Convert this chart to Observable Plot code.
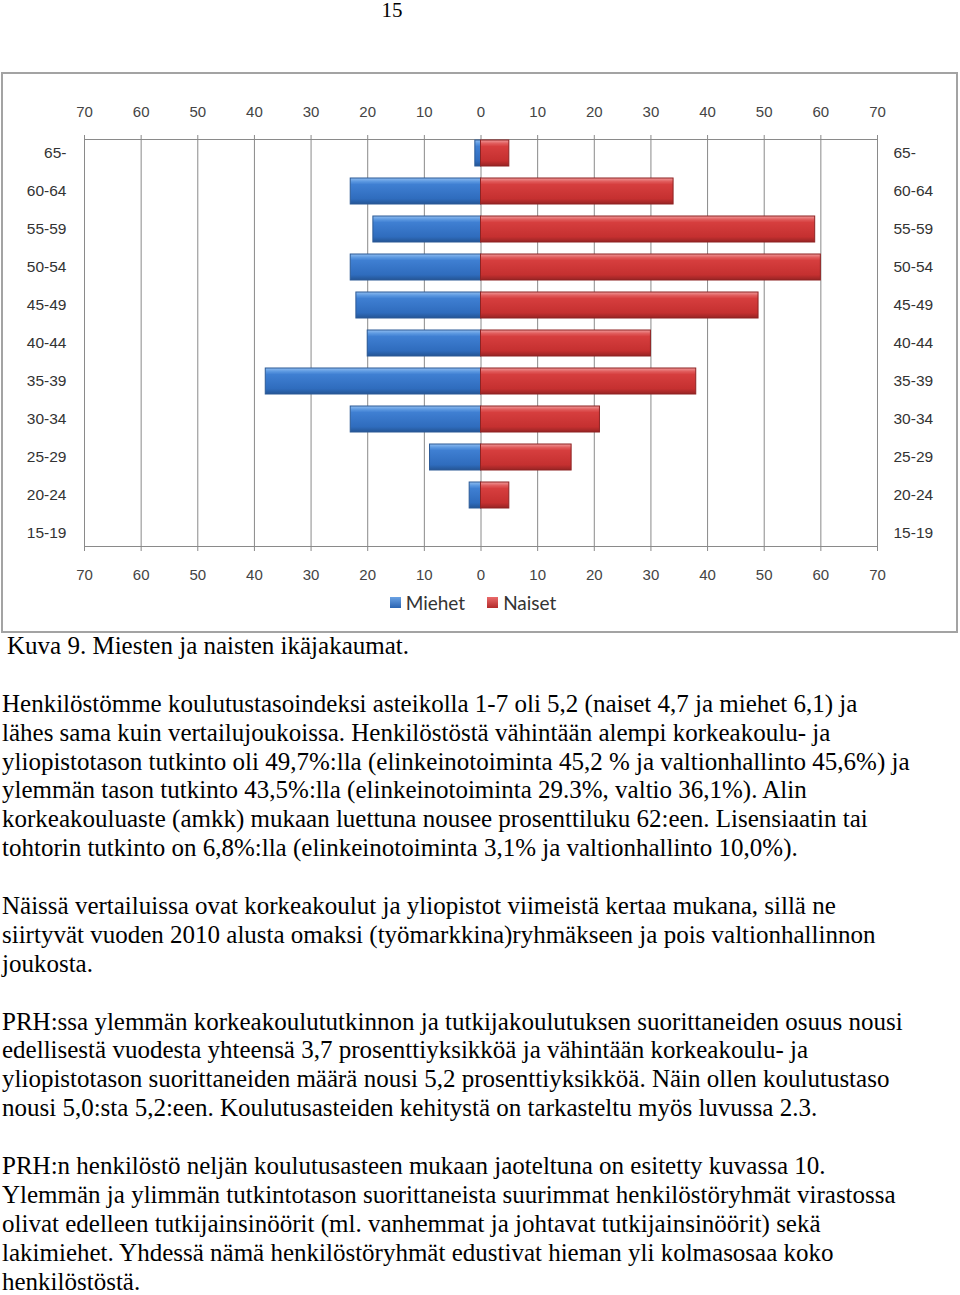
<!DOCTYPE html>
<html>
<head>
<meta charset="utf-8">
<script src="https://cdn.jsdelivr.net/npm/d3@7"></script>
<script src="https://cdn.jsdelivr.net/npm/@observablehq/plot@0.6"></script>
<style>
  html, body { margin: 0; padding: 0; background: #fff; }
  body { width: 960px; height: 1295px; position: relative; overflow: hidden; }
  #pagenum { position: absolute; left: 0; width: 784px; top: -2px; text-align: center;
    font: 21px "Liberation Serif", "Times New Roman", serif; color: #000; }
  #frame { position: absolute; left: 1px; top: 72px; width: 957px; height: 561px;
    border: 2px solid #a3a3a3; box-sizing: border-box; background: #fff; }
  #chart { position: absolute; left: 3px; top: 75px; }
  #legend { position: absolute; left: 0; width: 946px; top: 591px; display: flex; justify-content: center;
    font: 19px Lato, "Open Sans", sans-serif; color: #333; gap: 22px; }
  #legend span.item { display: flex; align-items: center; gap: 5px; }
  #legend .sw { width: 11px; height: 11px; display: inline-block; }
  #text { position: absolute; left: 2px; top: 632px; font: 25px "Liberation Serif", "Times New Roman", serif;
    line-height: 28.9px; color: #000; white-space: nowrap; }
  #text .cap { padding-left: 5px; }
</style>
</head>
<body>
<div id="pagenum">15</div>
<div id="frame"></div>
<div id="chart"></div>
<div id="legend"></div>
<div id="text"></div>
<script>
const ageGroups = ["65-", "60-64", "55-59", "50-54", "45-49", "40-44", "35-39", "30-34", "25-29", "20-24", "15-19"];
const miehet = [1, 23, 19, 23, 22, 20, 38, 23, 9, 2, 0];
const naiset = [5, 34, 59, 60, 49, 30, 38, 21, 16, 5, 0];
const tickValues = [-70, -60, -50, -40, -30, -20, -10, 0, 10, 20, 30, 40, 50, 60, 70];
const seriesNames = ["Miehet", "Naiset"];

const menData = ageGroups.map((a, i) => ({age: a, v: miehet[i]}));
const womenData = ageGroups.map((a, i) => ({age: a, v: naiset[i]}));

const fmt = d => String(Math.abs(d));
const axisFont = {fontSize: 15, fill: "#444"};

const plot = Plot.plot({
  width: 954,
  height: 511,
  marginLeft: 81,
  marginRight: 80,
  marginTop: 64,
  marginBottom: 40,
  style: {fontFamily: "'Liberation Sans', Arial, sans-serif", fontSize: "15px", color: "#444", background: "transparent"},
  x: {domain: [-70, 70], label: null},
  y: {domain: ageGroups, paddingInner: 0.32, paddingOuter: 0, label: null},
  marks: [
    Plot.gridX(tickValues, {stroke: "#8a8a8a", strokeOpacity: 1}),
    Plot.frame({stroke: "#8a8a8a"}),
    Plot.axisX(tickValues, {anchor: "top", label: null, tickSize: 5, tickPadding: 18, tickFormat: fmt, stroke: "#8a8a8a", ...axisFont}),
    Plot.axisX(tickValues, {anchor: "bottom", label: null, tickSize: 5, tickPadding: 18, tickFormat: fmt, stroke: "#8a8a8a", ...axisFont}),
    Plot.axisY({anchor: "left", label: null, tickSize: 0, tickPadding: 18, ...axisFont, fontSize: 15.5, fill: "#333"}),
    Plot.axisY({anchor: "right", label: null, tickSize: 0, tickPadding: 16, ...axisFont, fontSize: 15.5, fill: "#333"}),
    Plot.barX(menData.filter(d => d.v > 0), {x1: 0, x2: d => -d.v, y: "age", fill: "url(#gradBlue)", stroke: "#2c5a96", strokeWidth: 1}),
    Plot.barX(womenData.filter(d => d.v > 0), {x1: 0, x2: "v", y: "age", fill: "url(#gradRed)", stroke: "#8e2323", strokeWidth: 1})
  ]
});

// gradients for the bevelled bar look
const ns = "http://www.w3.org/2000/svg";
const defs = document.createElementNS(ns, "defs");
function grad(id, stops) {
  const g = document.createElementNS(ns, "linearGradient");
  g.setAttribute("id", id);
  g.setAttribute("x1", "0"); g.setAttribute("y1", "0");
  g.setAttribute("x2", "0"); g.setAttribute("y2", "1");
  stops.forEach(([o, c]) => {
    const s = document.createElementNS(ns, "stop");
    s.setAttribute("offset", o); s.setAttribute("stop-color", c);
    g.appendChild(s);
  });
  defs.appendChild(g);
}
grad("gradBlue", [["0", "#8fbcf0"], ["0.14", "#5a97e0"], ["0.25", "#3f7fd2"], ["0.8", "#2f6cbd"], ["1", "#245595"]]);
grad("gradRed", [["0", "#f09a9a"], ["0.14", "#e05a5a"], ["0.25", "#d63e3e"], ["0.8", "#c53030"], ["1", "#972424"]]);
plot.insertBefore(defs, plot.firstChild);
document.getElementById("chart").appendChild(plot);

// legend
const legend = document.getElementById("legend");
const swatchFill = {Miehet: "linear-gradient(#6aa2e4, #2a64b2)", Naiset: "linear-gradient(#ea6a6a, #b32a2a)"};
seriesNames.forEach(n => {
  const item = document.createElement("span");
  item.className = "item";
  const sw = document.createElement("span");
  sw.className = "sw";
  sw.style.background = swatchFill[n];
  item.appendChild(sw);
  item.appendChild(document.createTextNode(n));
  legend.appendChild(item);
});

// text below the chart
const lines = [
  ["cap", "Kuva 9. Miesten ja naisten ikäjakaumat."],
  ["", ""],
  ["", "Henkilöstömme koulutustasoindeksi asteikolla 1-7 oli 5,2 (naiset 4,7 ja miehet 6,1) ja"],
  ["", "lähes sama kuin vertailujoukoissa. Henkilöstöstä vähintään alempi korkeakoulu- ja"],
  ["", "yliopistotason tutkinto oli 49,7%:lla (elinkeinotoiminta 45,2 % ja valtionhallinto 45,6%) ja"],
  ["", "ylemmän tason tutkinto 43,5%:lla (elinkeinotoiminta 29.3%, valtio 36,1%). Alin"],
  ["", "korkeakouluaste (amkk) mukaan luettuna nousee prosenttiluku 62:een. Lisensiaatin tai"],
  ["", "tohtorin tutkinto on 6,8%:lla (elinkeinotoiminta 3,1% ja valtionhallinto 10,0%)."],
  ["", ""],
  ["", "Näissä vertailuissa ovat korkeakoulut ja yliopistot viimeistä kertaa mukana, sillä ne"],
  ["", "siirtyvät vuoden 2010 alusta omaksi (työmarkkina)ryhmäkseen ja pois valtionhallinnon"],
  ["", "joukosta."],
  ["", ""],
  ["", "PRH:ssa ylemmän korkeakoulututkinnon ja tutkijakoulutuksen suorittaneiden osuus nousi"],
  ["", "edellisestä vuodesta yhteensä 3,7 prosenttiyksikköä ja vähintään korkeakoulu- ja"],
  ["", "yliopistotason suorittaneiden määrä nousi 5,2 prosenttiyksikköä. Näin ollen koulutustaso"],
  ["", "nousi 5,0:sta 5,2:een. Koulutusasteiden kehitystä on tarkasteltu myös luvussa 2.3."],
  ["", ""],
  ["", "PRH:n henkilöstö neljän koulutusasteen mukaan jaoteltuna on esitetty kuvassa 10."],
  ["", "Ylemmän ja ylimmän tutkintotason suorittaneista suurimmat henkilöstöryhmät virastossa"],
  ["", "olivat edelleen tutkijainsinöörit (ml. vanhemmat ja johtavat tutkijainsinöörit) sekä"],
  ["", "lakimiehet. Yhdessä nämä henkilöstöryhmät edustivat hieman yli kolmasosaa koko"],
  ["", "henkilöstöstä."]
];
const textDiv = document.getElementById("text");
lines.forEach(([cls, t]) => {
  const d = document.createElement("div");
  if (cls) d.className = cls;
  d.style.height = "28.9px";
  d.textContent = t;
  textDiv.appendChild(d);
});
</script>
</body>
</html>
